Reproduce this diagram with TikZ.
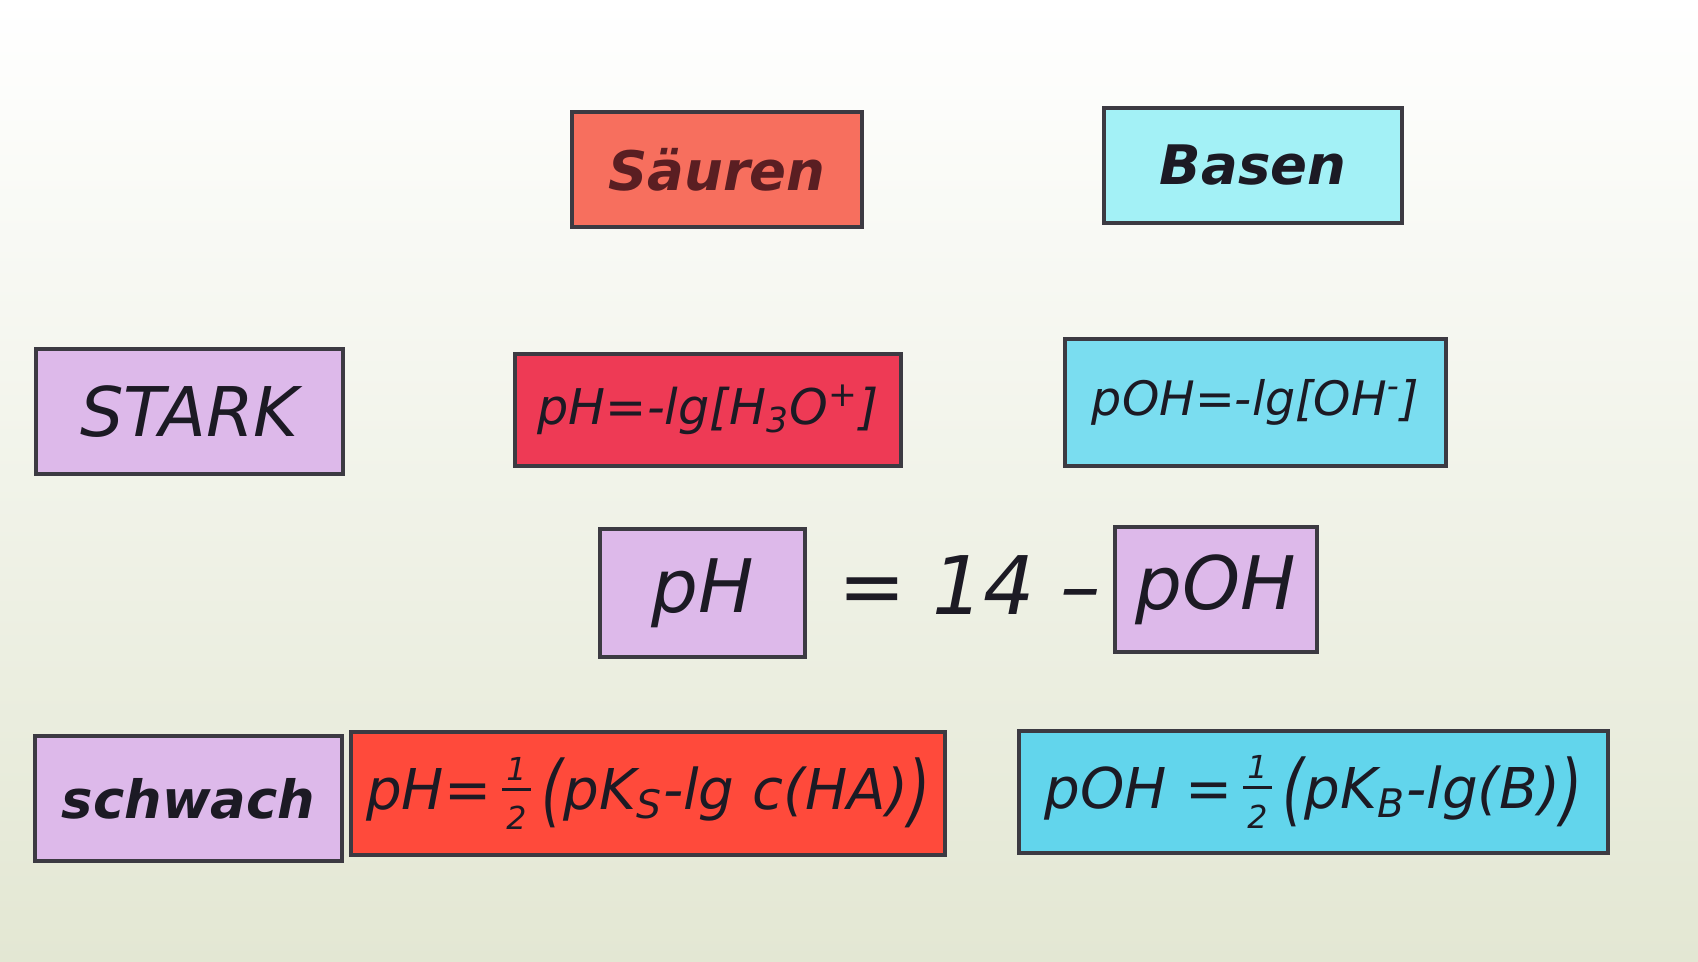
\documentclass[tikz,border=0pt]{standalone}
\usepackage{fontspec}
\newfontfamily\hand{DejaVu Sans}
\usetikzlibrary{positioning}

\definecolor{bgunten}{HTML}{E3E7D3}
\definecolor{randfarbe}{HTML}{3C3A42}
\definecolor{schrift}{HTML}{1C1A24}
\definecolor{saeurenrot}{HTML}{F76F5E}
\definecolor{saeurenschrift}{HTML}{5A1E22}
\definecolor{basenblau}{HTML}{A3F1F6}
\definecolor{lila}{HTML}{DDB9EA}
\definecolor{starkrot}{HTML}{EE3A55}
\definecolor{starkblau}{HTML}{7ADDF0}
\definecolor{schwachrot}{HTML}{FF4A3B}
\definecolor{schwachblau}{HTML}{62D5EC}

% gestapelter Bruch 1/2
\newcommand{\halb}{\hspace{0.2em}%
  \raisebox{0.52em}{\makebox[0.5em]{\fontsize{9}{10}\selectfont 1}}\hspace{-0.5em}%
  \rule[0.33em]{0.5em}{0.06em}\hspace{-0.5em}%
  \raisebox{-0.36em}{\makebox[0.5em]{\fontsize{9}{10}\selectfont 2}}\hspace{0.2em}}
\newcommand{\grossauf}{\raisebox{-0.15em}{\scalebox{1}[1.4]{(}}}
\newcommand{\grosszu}{\raisebox{-0.15em}{\scalebox{1}[1.4]{)}}}

\begin{document}
\begin{tikzpicture}[
  karte/.style={draw=randfarbe, line width=1pt, inner sep=0pt,
    text=schrift, font=\hand\itshape},
  groesse/.style 2 args={minimum width=#1cm, minimum height=#2cm}
]
% Hintergrund
\useasboundingbox (0,0) rectangle (16.98,9.61);
\shade[top color=white, bottom color=bgunten] (0,0) rectangle (16.98,9.61);

% Kopfzeile
\node[karte, groesse={2.90}{1.15}, fill=saeurenrot, text=saeurenschrift,
  font=\hand\bfseries\itshape\fontsize{15.5}{19}\selectfont] (saeuren) at (7.17,7.915) {Säuren};
\node[karte, groesse={2.98}{1.15}, fill=basenblau,
  font=\hand\bfseries\itshape\fontsize{15.5}{19}\selectfont] (basen) at (12.53,7.955) {Basen};

% starke Saeuren und Basen
\node[karte, groesse={3.07}{1.25}, fill=lila,
  font=\hand\itshape\fontsize{19.5}{23}\selectfont] (stark) at (1.895,5.495) {STARK};
\node[karte, groesse={3.86}{1.12}, fill=starkrot,
  font=\hand\itshape\fontsize{14}{17}\selectfont] (phstark) at (7.08,5.51)
  {pH=-lg[H\textsubscript{3}O\textsuperscript{+}]};
\node[karte, groesse={3.81}{1.27}, fill=starkblau,
  font=\hand\itshape\fontsize{13.5}{16}\selectfont] (pohstark) at (12.555,5.585)
  {pOH=-lg[OH\textsuperscript{-}]};

% Zusammenhang pH und pOH
\node[karte, groesse={2.05}{1.28}, fill=lila,
  font=\hand\itshape\fontsize{21}{25}\selectfont] (ph) at (7.025,3.68) {pH};
\node[karte, groesse={2.02}{1.25}, fill=lila,
  font=\hand\itshape\fontsize{21}{25}\selectfont] (poh) at (12.16,3.715) {pOH};
\node[text=schrift, font=\hand\itshape\fontsize{23}{27}\selectfont] (gleich) at (9.7,3.76) {= 14 –};

% schwache Saeuren und Basen
\node[karte, groesse={3.07}{1.25}, fill=lila,
  font=\hand\bfseries\itshape\fontsize{15}{18}\selectfont] (schwach) at (1.885,1.625) {schwach};
\node[karte, groesse={5.94}{1.23}, fill=schwachrot,
  font=\hand\itshape\fontsize{16}{19}\selectfont] (phschwach) at (6.48,1.675)
  {pH=\halb\grossauf pK\textsubscript{S}-lg c(HA)\grosszu};
\node[karte, groesse={5.89}{1.22}, fill=schwachblau,
  font=\hand\itshape\fontsize{16}{19}\selectfont] (pohschwach) at (13.135,1.69)
  {pOH =\halb\grossauf pK\textsubscript{B}-lg(B)\grosszu};
\end{tikzpicture}
\end{document}
